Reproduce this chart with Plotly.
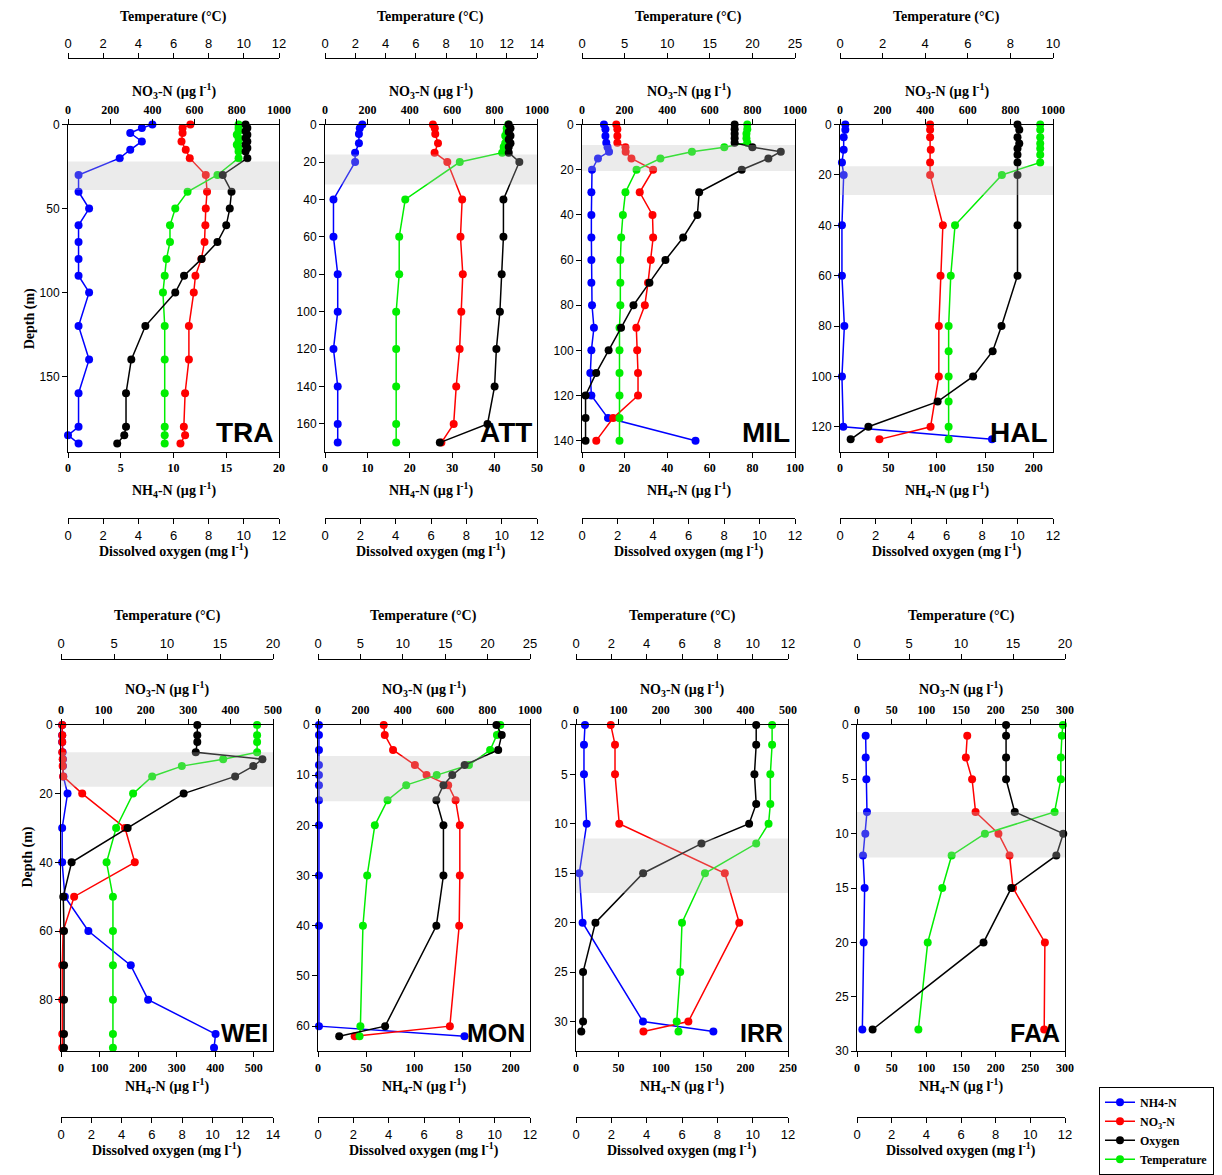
import plotly.graph_objects as go

W, H = 1222, 1175

# ------------------------- data -------------------------
names = ["TRA", "ATT", "MIL", "HAL", "WEI", "MON", "IRR", "FAA"]

TRA_nut_depth = [0, 2, 5, 10, 15, 20, 30, 40, 50, 60, 70, 80, 90, 100, 120, 140, 160, 180, 185, 190]
TRA_nh4 = [8.0, 7.0, 5.9, 7.0, 5.9, 4.9, 1.0, 1.0, 2.0, 1.0, 1.0, 1.0, 1.0, 2.0, 1.0, 2.0, 1.0, 1.0, 0.0, 1.0]
TRA_no3 = [580, 543, 543, 538, 558, 577, 653, 659, 653, 651, 647, 632, 604, 596, 573, 573, 555, 549, 555, 533]
TRA_probe_depth = [0, 2, 4, 6, 8, 10, 12, 14, 16, 20, 30, 40, 50, 60, 70, 80, 90, 100, 120, 140, 160, 180, 185, 190]
TRA_do = [10.1, 10.2, 10.1, 10.2, 10.1, 10.2, 10.1, 10.2, 10.1, 10.2, 8.8, 9.3, 9.2, 9.0, 8.5, 7.6, 6.6, 6.1, 4.4, 3.6, 3.3, 3.3, 3.2, 2.8]
TRA_temp = [9.7, 9.7, 9.7, 9.6, 9.7, 9.7, 9.6, 9.7, 9.7, 9.7, 8.5, 6.8, 6.1, 5.8, 5.8, 5.6, 5.5, 5.4, 5.5, 5.5, 5.5, 5.5, 5.5, 5.5]

ATT_nut_depth = [0, 2, 5, 10, 15, 20, 40, 60, 80, 100, 120, 140, 160, 170]
ATT_nh4 = [8.8, 8.2, 8.0, 8.0, 7.1, 7.1, 2.0, 2.0, 3.0, 3.0, 2.0, 3.0, 3.0, 3.0]
ATT_no3 = [509, 518, 520, 533, 517, 577, 647, 639, 650, 643, 635, 619, 607, 549]
ATT_probe_depth = [0, 2, 4, 6, 8, 10, 12, 15, 20, 40, 60, 80, 100, 120, 140, 160, 170]
ATT_do = [10.4, 10.5, 10.4, 10.5, 10.4, 10.5, 10.4, 10.4, 11.0, 10.1, 10.1, 10.0, 9.9, 9.7, 9.6, 9.2, 6.5]
ATT_temp = [12.1, 12.0, 12.0, 11.9, 12.0, 11.9, 11.8, 11.7, 8.9, 5.3, 4.9, 4.9, 4.7, 4.7, 4.7, 4.7, 4.7]

MIL_nut_depth = [0, 2, 5, 8, 10, 12, 15, 20, 30, 40, 50, 60, 70, 80, 90, 100, 110, 120, 130, 140]
MIL_nh4 = [10.3, 11.0, 11.0, 11.4, 12.0, 12.7, 7.5, 4.7, 4.4, 4.4, 4.4, 4.4, 4.4, 4.7, 5.6, 4.4, 3.9, 4.4, 12.2, 53.3]
MIL_no3 = [161, 166, 166, 166, 204, 205, 232, 334, 271, 331, 334, 323, 310, 295, 255, 259, 263, 263, 146, 67]
MIL_probe_depth = [0, 2, 4, 6, 8, 10, 12, 15, 20, 30, 40, 50, 60, 70, 80, 90, 100, 110, 120, 130, 140]
MIL_do = [8.6, 8.6, 8.6, 8.6, 8.6, 9.6, 11.2, 10.5, 9.0, 6.6, 6.5, 5.7, 4.7, 3.8, 2.9, 2.2, 1.5, 0.8, 0.2, 0.2, 0.2]
MIL_temp = [19.4, 19.4, 19.3, 19.3, 19.4, 16.7, 12.9, 9.2, 6.4, 5.1, 4.8, 4.6, 4.5, 4.5, 4.5, 4.4, 4.4, 4.4, 4.4, 4.4, 4.4]

HAL_nut_depth = [0, 2, 5, 10, 15, 20, 40, 60, 80, 100, 120, 125]
HAL_nh4 = [5.5, 5.5, 3.8, 3.8, 2.0, 3.8, 2.0, 2.0, 4.5, 2.0, 3.4, 157]
HAL_no3 = [423, 423, 423, 426, 423, 423, 483, 472, 464, 464, 425, 185]
HAL_probe_depth = [0, 2, 5, 7.5, 9.5, 12, 15, 20, 40, 60, 80, 90, 100, 110, 120, 125]
HAL_do = [10.0, 10.1, 10.0, 10.1, 10.0, 10.0, 10.0, 10.0, 10.0, 10.0, 9.1, 8.6, 7.5, 5.5, 1.6, 0.6]
HAL_temp = [9.4, 9.4, 9.4, 9.4, 9.4, 9.4, 9.4, 7.6, 5.4, 5.2, 5.1, 5.1, 5.1, 5.1, 5.1, 5.1]

WEI_nut_depth = [0, 3, 5, 8, 10, 12, 15, 20, 30, 40, 50, 60, 70, 80, 90, 94]
WEI_nh4 = [3, 3, 3, 4, 5, 5, 6, 17, 3, 3, 10, 71, 181, 226, 401, 397]
WEI_no3 = [3, 3, 3, 3, 4, 4, 5, 50, 151, 174, 31, 5, 3, 3, 3, 3]
WEI_probe_depth = [0, 3, 5, 8, 10, 12, 15, 20, 30, 40, 50, 60, 70, 80, 90, 94]
WEI_do = [9.0, 9.0, 9.0, 8.9, 13.3, 12.7, 11.5, 8.1, 4.4, 0.7, 0.15, 0.2, 0.2, 0.2, 0.2, 0.2]
WEI_temp = [18.5, 18.5, 18.5, 18.5, 15.3, 11.4, 8.6, 6.8, 5.2, 4.3, 4.9, 4.9, 4.9, 4.9, 4.9, 4.9]

MON_nut_depth = [0, 2, 5, 8, 10, 12, 15, 20, 30, 40, 60, 62]
MON_nh4 = [1, 1, 1, 1, 1, 1, 1, 1, 1, 1, 1, 152]
MON_no3 = [310, 315, 354, 457, 512, 614, 649, 669, 669, 666, 622, 173]
MON_probe_depth = [0, 2, 5, 8, 10, 12, 15, 20, 30, 40, 60, 62]
MON_do = [10.1, 10.4, 10.2, 8.3, 7.6, 7.1, 6.7, 7.1, 7.1, 6.7, 3.8, 1.2]
MON_temp = [21.5, 21.1, 20.3, 17.8, 14.0, 10.4, 8.2, 6.7, 5.8, 5.3, 5.0, 4.9]

IRR_nut_depth = [0, 2, 5, 10, 15, 20, 30, 31]
IRR_nh4 = [10.6, 9.4, 9.4, 12.6, 3.9, 7.8, 79, 162]
IRR_no3 = [82, 92, 92, 102, 351, 385, 265, 159]
IRR_probe_depth = [0, 2, 5, 8, 10, 12, 15, 20, 25, 30, 31]
IRR_do = [10.2, 10.2, 10.1, 10.2, 9.8, 7.1, 3.8, 1.1, 0.4, 0.4, 0.3]
IRR_temp = [11.1, 11.1, 11.0, 11.0, 10.9, 10.2, 7.3, 6.0, 5.9, 5.7, 5.8]

FAA_nut_depth = [1, 3, 5, 8, 10, 12, 15, 20, 28]
FAA_nh4 = [12.5, 12.5, 13.5, 14.4, 12.0, 8.7, 11.0, 9.6, 7.7]
FAA_no3 = [159, 157, 166, 171, 204, 220, 225, 271, 270]
FAA_probe_depth = [0, 1, 3, 5, 8, 10, 12, 15, 20, 28]
FAA_do = [8.6, 8.6, 8.6, 8.6, 9.1, 11.9, 11.5, 8.9, 7.3, 0.9]
FAA_temp = [19.8, 19.7, 19.6, 19.6, 19.0, 12.3, 9.1, 8.2, 6.8, 5.9]

# shaded (thermocline) depth bands
bands = [[22, 39], [16, 32], [9, 20.5], [16.5, 28], [8, 18], [6.2, 15.2], [11.5, 17], [8, 12.2]]

# axis scales: [max, dtick]
depth_axis = [[195, 50], [175, 20], [145, 20], [130, 20], [95, 20], [65, 10], [33, 5], [30, 5]]
nh4_axis = [[20, 5], [50, 10], [100, 20], [220, 50], [550, 100], [220, 50], [250, 50], [300, 50]]
no3_axis = [[1000, 200], [1000, 200], [1000, 200], [1000, 200], [500, 100], [1000, 200], [500, 100], [300, 50]]
temp_axis = [[12, 2], [14, 2], [25, 5], [10, 2], [20, 5], [25, 5], [12, 2], [20, 5]]
do_axis = [[12, 2], [12, 2], [12, 2], [12, 2], [14, 2], [12, 2], [12, 2], [12, 2]]

series_names = ["NH4-N", "NO<sub>3</sub>-N", "Oxygen", "Temperature"]

data = {
    "TRA": (TRA_nut_depth, TRA_nh4, TRA_no3, TRA_probe_depth, TRA_do, TRA_temp),
    "ATT": (ATT_nut_depth, ATT_nh4, ATT_no3, ATT_probe_depth, ATT_do, ATT_temp),
    "MIL": (MIL_nut_depth, MIL_nh4, MIL_no3, MIL_probe_depth, MIL_do, MIL_temp),
    "HAL": (HAL_nut_depth, HAL_nh4, HAL_no3, HAL_probe_depth, HAL_do, HAL_temp),
    "WEI": (WEI_nut_depth, WEI_nh4, WEI_no3, WEI_probe_depth, WEI_do, WEI_temp),
    "MON": (MON_nut_depth, MON_nh4, MON_no3, MON_probe_depth, MON_do, MON_temp),
    "IRR": (IRR_nut_depth, IRR_nh4, IRR_no3, IRR_probe_depth, IRR_do, IRR_temp),
    "FAA": (FAA_nut_depth, FAA_nh4, FAA_no3, FAA_probe_depth, FAA_do, FAA_temp),
}

# ------------------------- layout geometry (pixels) -------------------------
XPIX = [(68, 279), (325, 537), (582, 795), (840, 1053),
        (61, 273), (318, 530), (576, 788), (857, 1065)]
ROW_TOP = [126, 733]
ROW_BOT = [457, 1063]
TEMP_LINE = [59, 666]
DO_LINE = [524, 1130]
TITLE_Y = {"temp": [17, 623], "no3": [92, 697], "nh4": [495, 1098], "do": [557, 1162]}

COL = {"nh4": "#0000ff", "no3": "#ff0000", "do": "#000000", "temp": "#00ee00"}
SERIF = "Liberation Serif, Times New Roman, serif"
SANS = "Liberation Sans, Arial, sans-serif"


def xid(n):
    return "x" if n == 1 else f"x{n}"


def xkey(n):
    return "xaxis" if n == 1 else f"xaxis{n}"


def yid(n):
    return "y" if n == 1 else f"y{n}"


def ykey(n):
    return "yaxis" if n == 1 else f"yaxis{n}"


def px_x(p):
    return p / W


def px_y(p):
    return 1 - p / H


fig = go.Figure()
layout = {}
annotations = []
shapes = []

common = dict(showgrid=False, zeroline=False, showline=True, linecolor="black",
              linewidth=1, ticks="outside", ticklen=5, tickcolor="black", tickwidth=1)

for i, nm in enumerate(names):
    row = 0 if i < 4 else 1
    nut_d, nh4, no3, pr_d, do, temp = data[nm]
    x0, x1 = XPIX[i]
    dom = [px_x(x0), px_x(x1)]
    ydom = [px_y(ROW_BOT[row]), px_y(ROW_TOP[row])]
    nb = 4 * i + 1
    yn = i + 1
    ids = {"nh4": nb, "no3": nb + 1, "temp": nb + 2, "do": nb + 3}

    layout[xkey(ids["nh4"])] = dict(domain=dom, anchor=yid(yn), side="bottom",
                                    range=[0, nh4_axis[i][0]], tick0=0, dtick=nh4_axis[i][1],
                                    tickfont=dict(family=SERIF, size=12, color="black", weight="bold"),
                                    **common)
    layout[xkey(ids["no3"])] = dict(domain=dom, anchor=yid(yn), side="top",
                                    overlaying=xid(nb),
                                    range=[0, no3_axis[i][0]], tick0=0, dtick=no3_axis[i][1],
                                    tickfont=dict(family=SERIF, size=12, color="black", weight="bold"),
                                    **common)
    layout[xkey(ids["temp"])] = dict(domain=dom, anchor="free", position=px_y(TEMP_LINE[row]),
                                     side="top", overlaying=xid(nb),
                                     range=[0, temp_axis[i][0]], tick0=0, dtick=temp_axis[i][1],
                                     tickfont=dict(family=SANS, size=13, color="black"),
                                     **common)
    layout[xkey(ids["do"])] = dict(domain=dom, anchor="free", position=px_y(DO_LINE[row]),
                                   side="bottom", overlaying=xid(nb),
                                   range=[0, do_axis[i][0]], tick0=0, dtick=do_axis[i][1],
                                   tickfont=dict(family=SANS, size=13, color="black"),
                                   **common)
    layout[ykey(yn)] = dict(domain=ydom, anchor=xid(nb), range=[depth_axis[i][0], 0],
                            tick0=0, dtick=depth_axis[i][1], mirror=True,
                            tickfont=dict(family=SANS, size=12, color="black"),
                            **common)

    series = [("nh4", nut_d, nh4, 0), ("no3", nut_d, no3, 1),
              ("do", pr_d, do, 2), ("temp", pr_d, temp, 3)]
    for key, dd, vals, li in series:
        fig.add_trace(go.Scatter(
            x=vals, y=dd, mode="lines+markers",
            xaxis=xid(ids[key]), yaxis=yid(yn),
            line=dict(color=COL[key], width=1.5),
            marker=dict(color=COL[key], size=8),
            name=f"<b>{series_names[li]}</b>",
            showlegend=(i == 0), legendrank=li + 1,
            cliponaxis=False, hoverinfo="skip"))

    # shaded band
    shapes.append(dict(type="rect", xref=f"{xid(nb)} domain", x0=0, x1=1,
                       yref=yid(yn), y0=bands[i][0], y1=bands[i][1],
                       fillcolor="rgba(190,190,190,0.30)", line=dict(width=0), layer="above"))

    cx = px_x((x0 + x1) / 2)
    tfont = dict(family=SERIF, size=14, color="black")
    for key, txt in [("temp", "<b>Temperature (°C)</b>"),
                     ("no3", "<b>NO<sub>3</sub>-N (µg l<sup>-1</sup>)</b>"),
                     ("nh4", "<b>NH<sub>4</sub>-N (µg l<sup>-1</sup>)</b>"),
                     ("do", "<b>Dissolved oxygen (mg l<sup>-1</sup>)</b>")]:
        annotations.append(dict(text=txt, x=cx, y=px_y(TITLE_Y[key][row]), xref="paper",
                                yref="paper", showarrow=False, xanchor="center",
                                yanchor="middle", font=tfont))
    # site label
    annotations.append(dict(text=f"<b>{nm}</b>", x=px_x(x1 - 3), y=px_y(ROW_BOT[row] - 2),
                            xref="paper", yref="paper", showarrow=False,
                            xanchor="right", yanchor="bottom",
                            font=dict(family=SANS, size=28 if row == 0 else 25, color="black")))

for row, (xp, yp) in enumerate([(20, 290), (18, 900)]):
    annotations.append(dict(text="<b>Depth (m)</b>", x=px_x(xp), y=px_y(yp), xref="paper",
                            yref="paper", showarrow=False, textangle=-90,
                            font=dict(family=SERIF, size=14, color="black")))

fig.update_layout(**layout)
fig.update_layout(
    template="none",
    width=W, height=H,
    margin=dict(l=0, r=0, t=0, b=0),
    paper_bgcolor="white", plot_bgcolor="rgba(0,0,0,0)",
    annotations=annotations, shapes=shapes,
    showlegend=True,
    legend=dict(x=px_x(1099), y=px_y(1099), xanchor="left", yanchor="top",
                bordercolor="black", borderwidth=1, bgcolor="white",
                font=dict(family=SERIF, size=12, color="black"),
                itemwidth=30, tracegroupgap=0),
)

fig.write_html("out.html", config={"displayModeBar": False},
               post_script="document.body.style.margin='0px';document.body.style.overflow='hidden';")
